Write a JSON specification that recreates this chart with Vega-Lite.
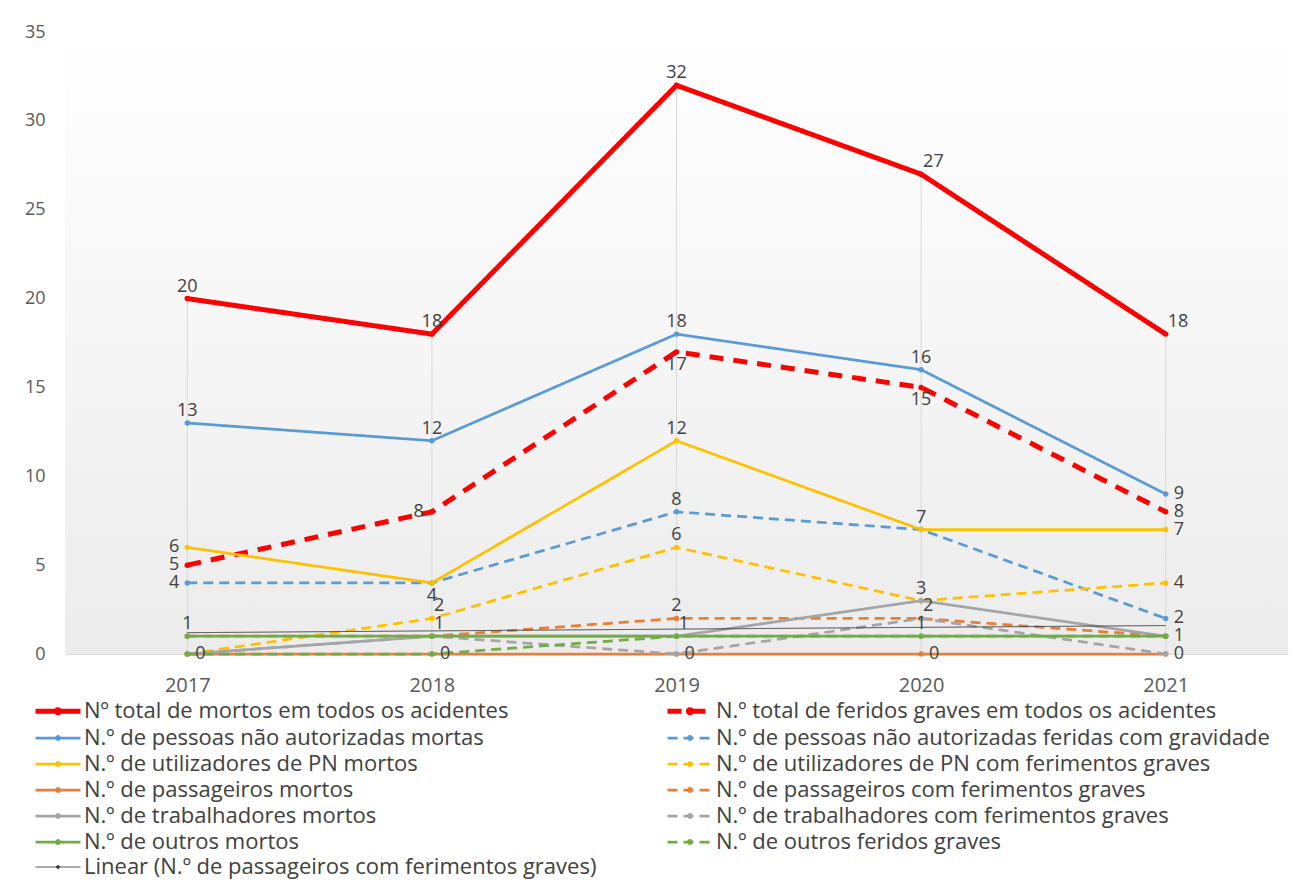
{
  "$schema": "https://vega.github.io/schema/vega-lite/v6.json",
  "width": 1223,
  "height": 622,
  "autosize": {"type": "none"},
  "padding": {"left": 65, "top": 32, "right": 5, "bottom": 239},
  "background": "#ffffff",
  "config": {
    "font": "Open Sans",
    "view": {"stroke": null},
    "axis": {"labelFont": "Open Sans", "labelColor": "#595959", "grid": false, "ticks": false, "title": null},
    "legend": {"labelFont": "Open Sans"}
  },
  "datasets": {
    "series": [
      {"s": "Nº total de mortos em todos os acidentes", "year": 2017, "v": 20},
      {"s": "Nº total de mortos em todos os acidentes", "year": 2018, "v": 18},
      {"s": "Nº total de mortos em todos os acidentes", "year": 2019, "v": 32},
      {"s": "Nº total de mortos em todos os acidentes", "year": 2020, "v": 27},
      {"s": "Nº total de mortos em todos os acidentes", "year": 2021, "v": 18},
      {"s": "N.º total de feridos graves em todos os acidentes", "year": 2017, "v": 5},
      {"s": "N.º total de feridos graves em todos os acidentes", "year": 2018, "v": 8},
      {"s": "N.º total de feridos graves em todos os acidentes", "year": 2019, "v": 17},
      {"s": "N.º total de feridos graves em todos os acidentes", "year": 2020, "v": 15},
      {"s": "N.º total de feridos graves em todos os acidentes", "year": 2021, "v": 8},
      {"s": "N.º de pessoas não autorizadas mortas", "year": 2017, "v": 13},
      {"s": "N.º de pessoas não autorizadas mortas", "year": 2018, "v": 12},
      {"s": "N.º de pessoas não autorizadas mortas", "year": 2019, "v": 18},
      {"s": "N.º de pessoas não autorizadas mortas", "year": 2020, "v": 16},
      {"s": "N.º de pessoas não autorizadas mortas", "year": 2021, "v": 9},
      {"s": "N.º de pessoas não autorizadas feridas com gravidade", "year": 2017, "v": 4},
      {"s": "N.º de pessoas não autorizadas feridas com gravidade", "year": 2018, "v": 4},
      {"s": "N.º de pessoas não autorizadas feridas com gravidade", "year": 2019, "v": 8},
      {"s": "N.º de pessoas não autorizadas feridas com gravidade", "year": 2020, "v": 7},
      {"s": "N.º de pessoas não autorizadas feridas com gravidade", "year": 2021, "v": 2},
      {"s": "N.º de utilizadores de PN mortos", "year": 2017, "v": 6},
      {"s": "N.º de utilizadores de PN mortos", "year": 2018, "v": 4},
      {"s": "N.º de utilizadores de PN mortos", "year": 2019, "v": 12},
      {"s": "N.º de utilizadores de PN mortos", "year": 2020, "v": 7},
      {"s": "N.º de utilizadores de PN mortos", "year": 2021, "v": 7},
      {"s": "N.º de utilizadores de PN com ferimentos graves", "year": 2017, "v": 0},
      {"s": "N.º de utilizadores de PN com ferimentos graves", "year": 2018, "v": 2},
      {"s": "N.º de utilizadores de PN com ferimentos graves", "year": 2019, "v": 6},
      {"s": "N.º de utilizadores de PN com ferimentos graves", "year": 2020, "v": 3},
      {"s": "N.º de utilizadores de PN com ferimentos graves", "year": 2021, "v": 4},
      {"s": "N.º de passageiros mortos", "year": 2017, "v": 0},
      {"s": "N.º de passageiros mortos", "year": 2018, "v": 0},
      {"s": "N.º de passageiros mortos", "year": 2019, "v": 0},
      {"s": "N.º de passageiros mortos", "year": 2020, "v": 0},
      {"s": "N.º de passageiros mortos", "year": 2021, "v": 0},
      {"s": "N.º de passageiros com ferimentos graves", "year": 2017, "v": 1},
      {"s": "N.º de passageiros com ferimentos graves", "year": 2018, "v": 1},
      {"s": "N.º de passageiros com ferimentos graves", "year": 2019, "v": 2},
      {"s": "N.º de passageiros com ferimentos graves", "year": 2020, "v": 2},
      {"s": "N.º de passageiros com ferimentos graves", "year": 2021, "v": 1},
      {"s": "N.º de trabalhadores mortos", "year": 2017, "v": 0},
      {"s": "N.º de trabalhadores mortos", "year": 2018, "v": 1},
      {"s": "N.º de trabalhadores mortos", "year": 2019, "v": 1},
      {"s": "N.º de trabalhadores mortos", "year": 2020, "v": 3},
      {"s": "N.º de trabalhadores mortos", "year": 2021, "v": 1},
      {"s": "N.º de trabalhadores com ferimentos graves", "year": 2017, "v": 0},
      {"s": "N.º de trabalhadores com ferimentos graves", "year": 2018, "v": 1},
      {"s": "N.º de trabalhadores com ferimentos graves", "year": 2019, "v": 0},
      {"s": "N.º de trabalhadores com ferimentos graves", "year": 2020, "v": 2},
      {"s": "N.º de trabalhadores com ferimentos graves", "year": 2021, "v": 0},
      {"s": "N.º de outros mortos", "year": 2017, "v": 1},
      {"s": "N.º de outros mortos", "year": 2018, "v": 1},
      {"s": "N.º de outros mortos", "year": 2019, "v": 1},
      {"s": "N.º de outros mortos", "year": 2020, "v": 1},
      {"s": "N.º de outros mortos", "year": 2021, "v": 1},
      {"s": "N.º de outros feridos graves", "year": 2017, "v": 0},
      {"s": "N.º de outros feridos graves", "year": 2018, "v": 0},
      {"s": "N.º de outros feridos graves", "year": 2019, "v": 1},
      {"s": "N.º de outros feridos graves", "year": 2020, "v": 1},
      {"s": "N.º de outros feridos graves", "year": 2021, "v": 1},
      {"s": "Linear (N.º de passageiros com ferimentos graves)", "year": 2017, "v": 1.2},
      {"s": "Linear (N.º de passageiros com ferimentos graves)", "year": 2021, "v": 1.6}
    ],
    "labels": [
      {"year": 2017, "value": 20}, {"year": 2017, "value": 13}, {"year": 2017, "value": 6}, {"year": 2017, "value": 5}, {"year": 2017, "value": 4}, {"year": 2017, "value": 1}, {"year": 2017, "value": 0},
      {"year": 2018, "value": 18}, {"year": 2018, "value": 12}, {"year": 2018, "value": 8}, {"year": 2018, "value": 4}, {"year": 2018, "value": 2}, {"year": 2018, "value": 1}, {"year": 2018, "value": 0},
      {"year": 2019, "value": 32}, {"year": 2019, "value": 18}, {"year": 2019, "value": 17}, {"year": 2019, "value": 12}, {"year": 2019, "value": 8}, {"year": 2019, "value": 6}, {"year": 2019, "value": 2}, {"year": 2019, "value": 1}, {"year": 2019, "value": 0},
      {"year": 2020, "value": 27}, {"year": 2020, "value": 16}, {"year": 2020, "value": 15}, {"year": 2020, "value": 7}, {"year": 2020, "value": 3}, {"year": 2020, "value": 2}, {"year": 2020, "value": 1}, {"year": 2020, "value": 0},
      {"year": 2021, "value": 18}, {"year": 2021, "value": 9}, {"year": 2021, "value": 8}, {"year": 2021, "value": 7}, {"year": 2021, "value": 4}, {"year": 2021, "value": 2}, {"year": 2021, "value": 1}, {"year": 2021, "value": 0}
    ]
  },
  "layer": [
    {
      "data": {"name": "series"},
      "mark": {"type": "rect", "color": {"gradient": "linear", "x1": 0, "y1": 0, "x2": 0, "y2": 1, "stops": [{"offset": 0, "color": "#ffffff"}, {"offset": 1, "color": "#ececec"}]}},
      "encoding": {
        "x": {"datum": 2016.5, "type": "quantitative"},
        "x2": {"datum": 2021.5},
        "y": {"datum": 0, "type": "quantitative"},
        "y2": {"datum": 35}
      }
    },
    {
      "data": {"name": "series"},
      "transform": [{"aggregate": [{"op": "max", "field": "v", "as": "vmax"}], "groupby": ["year"]}],
      "mark": {"type": "rule", "color": "#d9d9d9", "strokeWidth": 1},
      "encoding": {
        "x": {"field": "year", "type": "quantitative"},
        "y": {"field": "vmax", "type": "quantitative"},
        "y2": {"datum": 0}
      }
    },
    {
      "data": {"name": "series"},
      "mark": {"type": "line"},
      "encoding": {
        "x": {
          "field": "year", "type": "quantitative",
          "scale": {"domain": [2016.5, 2021.5], "nice": false, "zero": false},
          "axis": {"values": [2017, 2018, 2019, 2020, 2021], "format": "d", "labelFontSize": 20, "labelPadding": 21, "domain": true, "domainColor": "#d9d9d9", "labelColor": "#595959"}
        },
        "y": {
          "field": "v", "type": "quantitative",
          "scale": {"domain": [0, 35], "nice": false},
          "axis": {"values": [0, 5, 10, 15, 20, 25, 30, 35], "labelFontSize": 18, "labelPadding": 20, "domain": false}
        },
        "color": {
          "field": "s", "type": "nominal",
          "scale": {
            "domain": [
              "Nº total de mortos em todos os acidentes",
              "N.º total de feridos graves em todos os acidentes",
              "N.º de pessoas não autorizadas mortas",
              "N.º de pessoas não autorizadas feridas com gravidade",
              "N.º de utilizadores de PN mortos",
              "N.º de utilizadores de PN com ferimentos graves",
              "N.º de passageiros mortos",
              "N.º de passageiros com ferimentos graves",
              "N.º de trabalhadores mortos",
              "N.º de trabalhadores com ferimentos graves",
              "N.º de outros mortos",
              "N.º de outros feridos graves",
              "Linear (N.º de passageiros com ferimentos graves)"
            ],
            "range": ["#ff0000", "#ff0000", "#5b9bd5", "#5b9bd5", "#ffc000", "#ffc000", "#ed7d31", "#ed7d31", "#a5a5a5", "#a5a5a5", "#70ad47", "#70ad47", "#404040"]
          },
          "legend": {
            "title": null,
            "orient": "none",
            "legendX": -30,
            "legendY": 665,
            "columns": 2,
            "direction": "horizontal",
            "columnPadding": 60,
            "rowPadding": 2,
            "symbolType": "M-2,0H2M-0.14,0A0.14,0.14,0,1,1,0.14,0A0.14,0.14,0,1,1,-0.14,0",
            "symbolSize": 506,
            "symbolOffset": 9,
            "labelFontSize": 22,
            "labelColor": "#404040",
            "labelOffset": 12,
            "labelLimit": 800
          }
        },
        "strokeDash": {
          "field": "s", "type": "nominal",
          "scale": {
            "domain": [
              "Nº total de mortos em todos os acidentes",
              "N.º total de feridos graves em todos os acidentes",
              "N.º de pessoas não autorizadas mortas",
              "N.º de pessoas não autorizadas feridas com gravidade",
              "N.º de utilizadores de PN mortos",
              "N.º de utilizadores de PN com ferimentos graves",
              "N.º de passageiros mortos",
              "N.º de passageiros com ferimentos graves",
              "N.º de trabalhadores mortos",
              "N.º de trabalhadores com ferimentos graves",
              "N.º de outros mortos",
              "N.º de outros feridos graves",
              "Linear (N.º de passageiros com ferimentos graves)"
            ],
            "range": [[1, 0], [14, 10], [1, 0], [10, 6], [1, 0], [10, 6], [1, 0], [10, 6], [1, 0], [10, 6], [1, 0], [10, 6], [1, 0]]
          }
        },
        "strokeWidth": {
          "field": "s", "type": "nominal",
          "scale": {
            "type": "ordinal",
            "domain": [
              "Nº total de mortos em todos os acidentes",
              "N.º total de feridos graves em todos os acidentes",
              "N.º de pessoas não autorizadas mortas",
              "N.º de pessoas não autorizadas feridas com gravidade",
              "N.º de utilizadores de PN mortos",
              "N.º de utilizadores de PN com ferimentos graves",
              "N.º de passageiros mortos",
              "N.º de passageiros com ferimentos graves",
              "N.º de trabalhadores mortos",
              "N.º de trabalhadores com ferimentos graves",
              "N.º de outros mortos",
              "N.º de outros feridos graves",
              "Linear (N.º de passageiros com ferimentos graves)"
            ],
            "range": [5, 5, 2.75, 2.75, 2.75, 2.75, 2.75, 2.75, 2.75, 2.75, 2.75, 2.75, 1]
          }
        }
      }
    },
    {
      "data": {"name": "series"},
      "transform": [{"filter": "datum.s != 'Linear (N.º de passageiros com ferimentos graves)'"}],
      "mark": {"type": "point", "filled": true, "size": 30, "opacity": 1},
      "encoding": {
        "x": {"field": "year", "type": "quantitative"},
        "y": {"field": "v", "type": "quantitative"},
        "color": {"field": "s", "type": "nominal", "legend": null}
      }
    },
    {
      "data": {"name": "labels"},
      "transform": [{"filter": "(datum.year==2017 && (datum.value==20 || datum.value==13 || datum.value==1)) || (datum.year==2018 && (datum.value==18 || datum.value==12)) || (datum.year==2019 && (datum.value==32 || datum.value==18 || datum.value==12 || datum.value==8 || datum.value==6 || datum.value==2)) || (datum.year==2020 && (datum.value==16 || datum.value==7 || datum.value==3 || datum.value==1))"}],
      "mark": {"type": "text", "fontSize": 18, "color": "#404040", "align": "center", "baseline": "bottom", "dy": -3},
      "encoding": {
        "x": {"field": "year", "type": "quantitative"},
        "y": {"field": "value", "type": "quantitative"},
        "text": {"field": "value", "type": "quantitative"}
      }
    },
    {
      "data": {"name": "labels"},
      "transform": [{"filter": "(datum.year==2018 && (datum.value==2 || datum.value==1)) || (datum.year==2019 && datum.value==1) || (datum.year==2020 && (datum.value==27 || datum.value==2)) || (datum.year==2021 && datum.value==18)"}],
      "mark": {"type": "text", "fontSize": 18, "color": "#404040", "align": "left", "baseline": "bottom", "dx": 2, "dy": -3},
      "encoding": {
        "x": {"field": "year", "type": "quantitative"},
        "y": {"field": "value", "type": "quantitative"},
        "text": {"field": "value", "type": "quantitative"}
      }
    },
    {
      "data": {"name": "labels"},
      "transform": [{"filter": "datum.value==0 || (datum.year==2021 && datum.value<18)"}],
      "mark": {"type": "text", "fontSize": 18, "color": "#404040", "align": "left", "baseline": "middle", "dx": 8},
      "encoding": {
        "x": {"field": "year", "type": "quantitative"},
        "y": {"field": "value", "type": "quantitative"},
        "text": {"field": "value", "type": "quantitative"}
      }
    },
    {
      "data": {"name": "labels"},
      "transform": [{"filter": "(datum.year==2017 && datum.value>=4 && datum.value<=6) || (datum.year==2018 && datum.value==8)"}],
      "mark": {"type": "text", "fontSize": 18, "color": "#404040", "align": "right", "baseline": "middle", "dx": -8},
      "encoding": {
        "x": {"field": "year", "type": "quantitative"},
        "y": {"field": "value", "type": "quantitative"},
        "text": {"field": "value", "type": "quantitative"}
      }
    },
    {
      "data": {"name": "labels"},
      "transform": [{"filter": "(datum.year==2018 && datum.value==4) || (datum.year==2019 && datum.value==17) || (datum.year==2020 && datum.value==15)"}],
      "mark": {"type": "text", "fontSize": 18, "color": "#404040", "align": "center", "baseline": "top", "dy": 4},
      "encoding": {
        "x": {"field": "year", "type": "quantitative"},
        "y": {"field": "value", "type": "quantitative"},
        "text": {"field": "value", "type": "quantitative"}
      }
    }
  ]
}
